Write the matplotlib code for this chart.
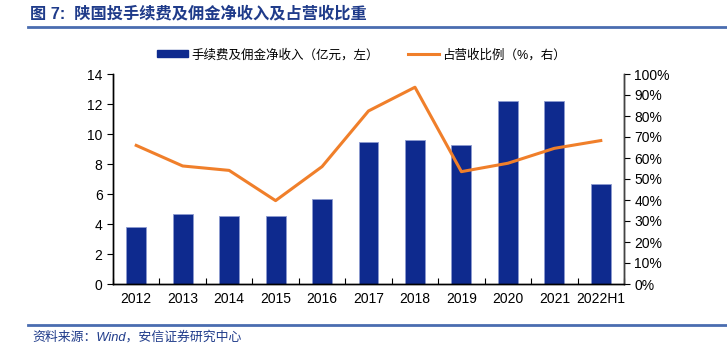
import matplotlib
matplotlib.use("Agg")
import matplotlib.pyplot as plt
from matplotlib.lines import Line2D
from matplotlib.patches import Patch
from matplotlib.ticker import FuncFormatter, FixedLocator

plt.rcParams["font.family"] = ["Liberation Sans", "Noto Sans CJK SC", "DejaVu Sans"]

# 数据
anos = ["2012", "2013", "2014", "2015", "2016", "2017", "2018", "2019", "2020", "2021", "2022H1"]
receita = [3.8, 4.7, 4.55, 4.55, 5.7, 9.45, 9.6, 9.3, 12.2, 12.2, 6.65]
proporcao = [66.0, 56.2, 54.1, 39.7, 55.9, 82.4, 93.7, 53.5, 57.5, 64.6, 68.3]

AZUL_BARRA = "#0e2a8e"
LARANJA = "#f07f2a"
AZUL_TITULO = "#1f3b8a"
AZUL_LINHA = "#4a6db0"

fig = plt.figure(figsize=(7.27, 3.51), dpi=100)
ax = fig.add_axes([113 / 727, 1 - 284 / 351, 511 / 727, 210 / 351])
ax2 = ax.twinx()

x = list(range(len(anos)))
ax.bar(x, receita, width=0.43, color=AZUL_BARRA, edgecolor="#8d9ad0", linewidth=0.6, zorder=2)
ax2.plot(x, proporcao, color=LARANJA, linewidth=2.2, zorder=3)

ax.set_xlim(-0.5, len(anos) - 0.5)
ax.set_ylim(0, 14)
ax.set_yticks(range(0, 15, 2))
ax2.set_ylim(0, 100)
ax2.set_yticks(range(0, 101, 10))
ax2.yaxis.set_major_formatter(FuncFormatter(lambda v, _: f"{v:.0f}%"))

# rótulos no centro, marcas nas fronteiras entre categorias
ax.set_xticks(x)
ax.set_xticklabels(anos)
ax.tick_params(axis="x", which="major", length=0, pad=6, labelsize=10)
ax.xaxis.set_minor_locator(FixedLocator([i + 0.5 for i in range(-1, len(anos))]))
ax.tick_params(axis="x", which="minor", direction="in", length=4, width=0.8)

ax.tick_params(axis="y", direction="out", length=4, labelsize=10)
ax2.tick_params(axis="y", direction="out", length=4, labelsize=10)

for a in (ax, ax2):
    a.spines["top"].set_visible(False)
    for s in ("left", "right", "bottom"):
        a.spines[s].set_linewidth(1.0)
ax2.spines["right"].set_color("#444444")

# legenda no topo
fig.legend(handles=[Patch(color=AZUL_BARRA, label="手续费及佣金净收入（亿元，左）"),
                    Line2D([], [], color=LARANJA, linewidth=2.2, label="占营收比例（%，右）")],
           loc="center left", bbox_to_anchor=(157 / 727, 1 - 55 / 351), ncol=2, frameon=False,
           fontsize=9, handlelength=2.5, handleheight=0.5, handletextpad=0.25,
           columnspacing=2.3, borderpad=0, borderaxespad=0)

# título e fonte
fig.text(30 / 727, 1 - 13 / 351, "图 7:  陕国投手续费及佣金净收入及占营收比重", color=AZUL_TITULO,
         fontsize=11.7, fontweight="bold", va="center", ha="left")
fig.add_artist(Line2D([28 / 727, 1.0], [1 - 27 / 351] * 2, color=AZUL_LINHA, linewidth=2))
fig.add_artist(Line2D([28 / 727, 1.0], [1 - 325 / 351] * 2, color=AZUL_LINHA, linewidth=2))
fig.text(32 / 727, 1 - 337 / 351, "资料来源：Wind，安信证券研究中心", color=AZUL_TITULO,
         fontsize=9.3, style="italic", va="center", ha="left")

fig.savefig("out.png", dpi=100)
plt.close(fig)
